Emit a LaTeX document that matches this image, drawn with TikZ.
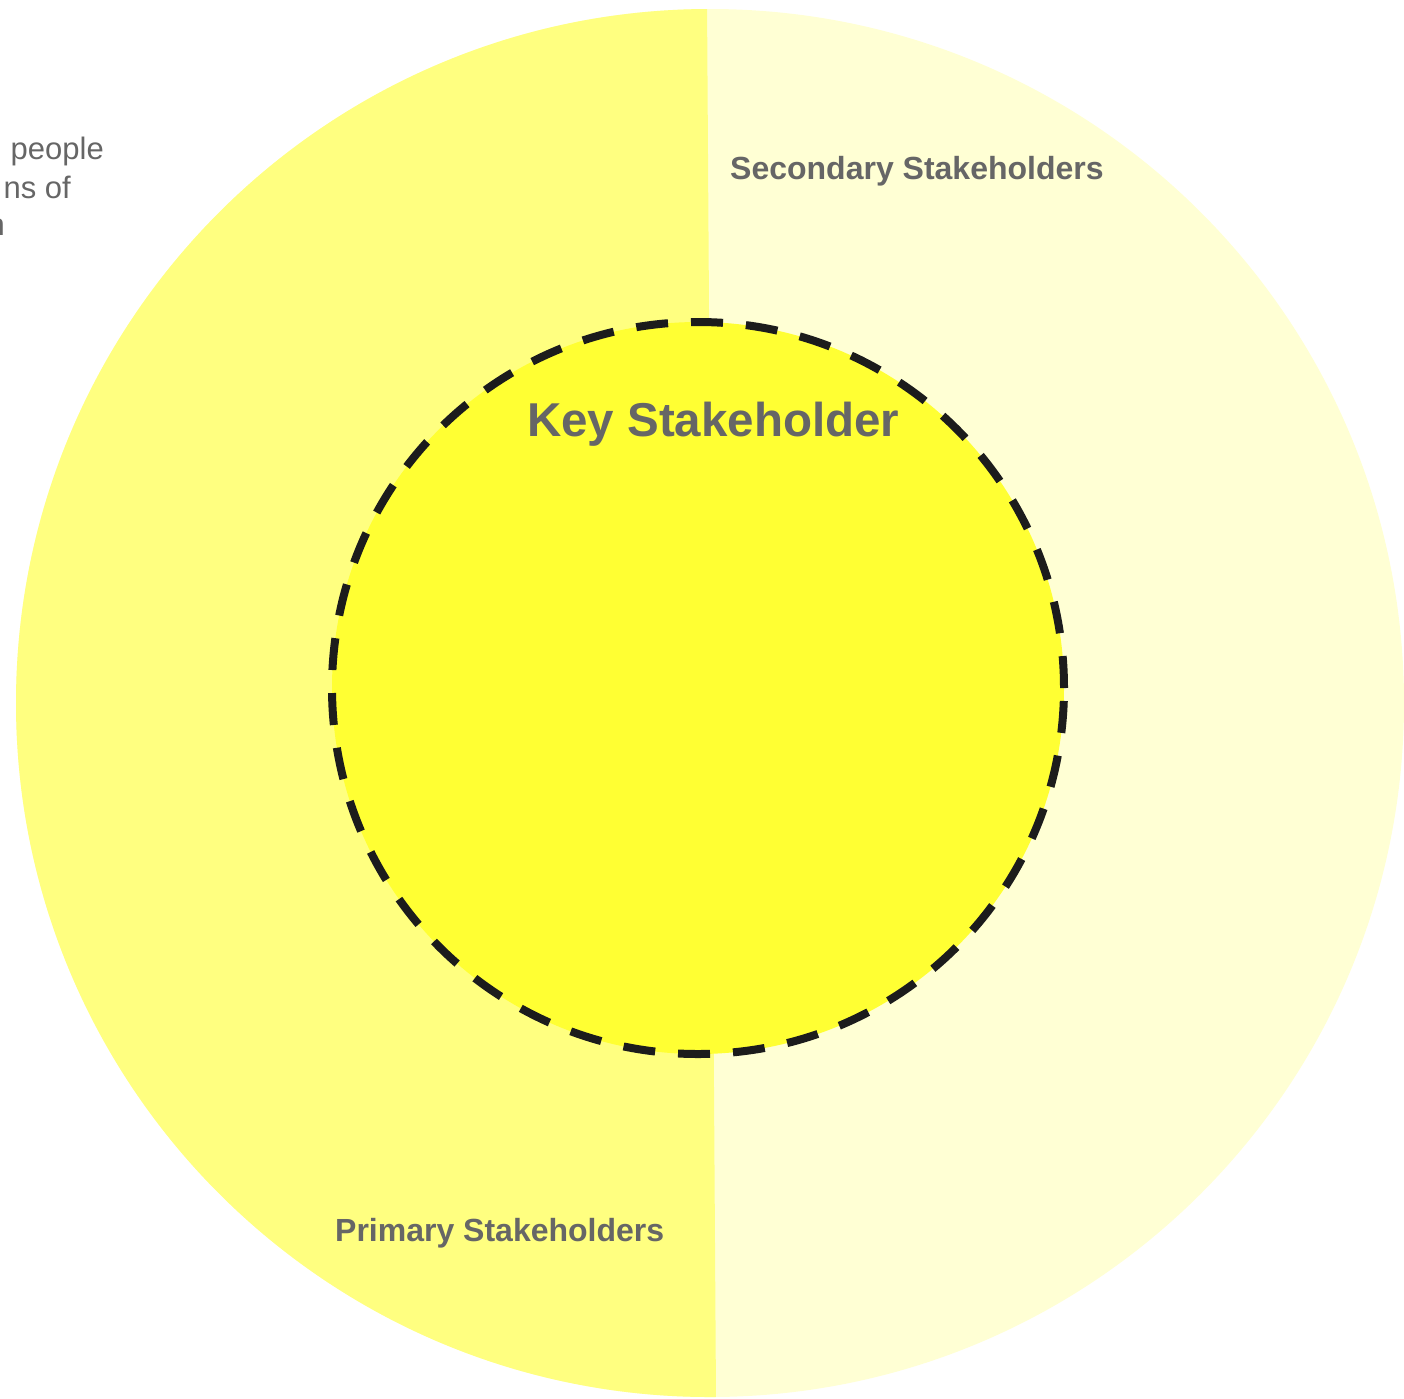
\documentclass[tikz,border=0pt]{standalone}
\usepackage{fontspec}
\setmainfont{Liberation Sans}
\definecolor{primaryfill}{HTML}{FFFF80}
\definecolor{secondaryfill}{HTML}{FFFFD4}
\definecolor{keyfill}{HTML}{FFFF33}
\definecolor{labelgray}{HTML}{666666}
\definecolor{dashblack}{HTML}{1C1C1C}

\begin{document}
\begin{tikzpicture}[x=1pt,y=-1pt,
  ringlabel/.style={text=labelgray,inner sep=0pt,font=\bfseries\fontsize{32}{38}\selectfont},
  keylabel/.style={text=labelgray,inner sep=0pt,font=\bfseries\fontsize{47.5}{56}\selectfont},
  notelabel/.style={text=labelgray,inner sep=0pt,font=\fontsize{31}{38}\selectfont}]
\useasboundingbox (0,0) rectangle (1404,1398);
\clip (0,0) rectangle (1404,1398);
% Outer ring: secondary half first, primary half on top
\fill[secondaryfill] (710,703) circle (694pt);
\begin{scope}
\clip (710,703) circle (694pt);
\fill[primaryfill] (707,0) -- (716,1400) -- (0,1400) -- (0,0) -- cycle;
\end{scope}
% Key stakeholder circle
\filldraw[fill=keyfill,draw=dashblack,line width=8pt,dash pattern=on 32pt off 23pt] (698,688) circle (366pt);
% Labels
\node[ringlabel,anchor=base west] (secondary) at (730,179) {Secondary Stakeholders};
\node[ringlabel,anchor=base west] (primary) at (335,1241) {Primary Stakeholders};
\node[keylabel,anchor=base west] (key) at (527,436) {Key Stakeholder};
% Note text cut off at the left edge
\node[notelabel,anchor=base east] (note1) at (104,159) {people};
\node[notelabel,anchor=base east] (note2) at (71,198) {ns of};
\node[notelabel,anchor=base east] (note3) at (5,235) {n};
\end{tikzpicture}
\end{document}
